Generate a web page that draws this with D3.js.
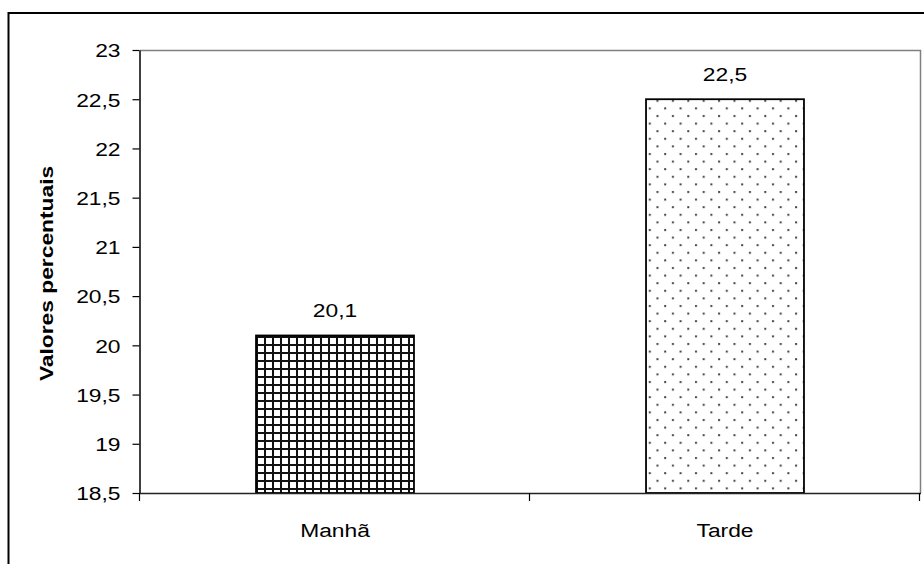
<!DOCTYPE html>
<html>
<head>
<meta charset="utf-8">
<script src="https://cdn.jsdelivr.net/npm/d3@7"></script>
<style>
  body { margin: 0; background: #fff; }
  text { font-family: "Liberation Sans", Arial, sans-serif; fill: #000; }
</style>
</head>
<body>
<div id="chart"></div>
<script>
// dados do gráfico
const categorias = ["Manhã", "Tarde"];
const valores = [20.1, 22.5];
const padroes = ["grade", "pontos"];
const yTicks = [18.5, 19, 19.5, 20, 20.5, 21, 21.5, 22, 22.5, 23];
const yTitulo = "Valores percentuais";

const width = 924, height = 564;
const plot = { left: 140, right: 920, top: 50, bottom: 493 };
const stretch = 1.2; // texto esticado na horizontal como no original
const fs = "19px";

const pt = d3.formatLocale({ decimal: ",", thousands: ".", grouping: [3], currency: ["", ""] });
const fmt = pt.format("~g");

const svg = d3.select("#chart").append("svg")
    .attr("width", width)
    .attr("height", height);

// padrões de preenchimento
const defs = svg.append("defs");
const grade = defs.append("pattern")
    .attr("id", "grade")
    .attr("patternUnits", "userSpaceOnUse")
    .attr("width", 8).attr("height", 8);
grade.append("rect").attr("width", 8).attr("height", 8).attr("fill", "#fff");
grade.append("rect").attr("x", 0).attr("y", 0).attr("width", 2).attr("height", 8).attr("fill", "#111");
grade.append("rect").attr("x", 0).attr("y", 0).attr("width", 8).attr("height", 2).attr("fill", "#111");

const pontos = defs.append("pattern")
    .attr("id", "pontos")
    .attr("patternUnits", "userSpaceOnUse")
    .attr("width", 15.4).attr("height", 15.2);
pontos.append("rect").attr("width", 15.4).attr("height", 15.2).attr("fill", "#fff");
pontos.append("rect").attr("x", 2).attr("y", 1).attr("width", 2).attr("height", 2).attr("fill", "#444");
pontos.append("rect").attr("x", 9.7).attr("y", 8.6).attr("width", 2).attr("height", 2).attr("fill", "#444");

// moldura externa
svg.append("rect")
    .attr("x", 8.5).attr("y", 13)
    .attr("width", 1000).attr("height", 1000)
    .attr("fill", "none")
    .attr("stroke", "#000")
    .attr("stroke-width", 2);

// escalas
const x = d3.scaleBand()
    .domain(categorias)
    .range([plot.left, plot.right])
    .padding(0);

const y = d3.scaleLinear()
    .domain([18.5, 23])
    .range([plot.bottom, plot.top]);

const barW = x.bandwidth() * 0.405;

// borda da área do gráfico (cinza)
svg.append("path")
    .attr("d", `M${plot.left},${plot.top + 0.5}H${plot.right + 0.5}V${plot.bottom}`)
    .attr("fill", "none")
    .attr("stroke", "#808080")
    .attr("stroke-width", 1.5);

// barras
svg.selectAll("rect.barra")
    .data(categorias)
    .enter()
    .append("rect")
    .attr("class", "barra")
    .attr("x", (d) => x(d) + (x.bandwidth() - barW) / 2)
    .attr("y", (d, i) => y(valores[i]))
    .attr("width", barW)
    .attr("height", (d, i) => y(18.5) - y(valores[i]))
    .attr("fill", (d, i) => `url(#${padroes[i]})`)
    .attr("stroke", "#000")
    .attr("stroke-width", 1.8);

// eixo Y
const yAxis = svg.append("g")
    .attr("transform", `translate(${plot.left - 0.5},0)`)
    .call(d3.axisLeft(y).tickValues(yTicks).tickSize(7).tickSizeOuter(0).tickFormat(fmt));
yAxis.select(".domain").attr("stroke", "#000").attr("stroke-width", 1.5);
yAxis.selectAll(".tick line").attr("stroke", "#000").attr("stroke-width", 1.2);
yAxis.selectAll(".tick text")
    .attr("x", 0)
    .attr("dy", "0.36em")
    .attr("transform", `translate(-19,0) scale(${stretch},1)`)
    .style("font-size", fs)
    .style("font-family", "'Liberation Sans', Arial, sans-serif")
    .attr("fill", "#000");

// eixo X
const xEdges = [plot.left, x(categorias[1]), plot.right];
svg.append("line")
    .attr("x1", plot.left).attr("x2", plot.right + 1)
    .attr("y1", plot.bottom + 0.5).attr("y2", plot.bottom + 0.5)
    .attr("stroke", "#222").attr("stroke-width", 1.5);
svg.selectAll("line.xtick")
    .data(xEdges)
    .enter()
    .append("line")
    .attr("class", "xtick")
    .attr("x1", (d) => d - 0.5).attr("x2", (d) => d - 0.5)
    .attr("y1", plot.bottom).attr("y2", plot.bottom + 8)
    .attr("stroke", "#000").attr("stroke-width", 1.2);

svg.selectAll("text.xlabel")
    .data(categorias)
    .enter()
    .append("text")
    .attr("class", "xlabel")
    .attr("transform", (d) => `translate(${x(d) + x.bandwidth() / 2},537) scale(${stretch},1)`)
    .attr("text-anchor", "middle")
    .style("font-size", fs)
    .text((d) => d);

// rótulos de valores
svg.selectAll("text.valor")
    .data(valores)
    .enter()
    .append("text")
    .attr("class", "valor")
    .attr("transform", (d, i) => `translate(${x(categorias[i]) + x.bandwidth() / 2},${y(d) - 18}) scale(${stretch},1)`)
    .attr("text-anchor", "middle")
    .style("font-size", fs)
    .text((d) => fmt(d));

// título do eixo Y
svg.append("text")
    .attr("transform", `translate(53,${(plot.top + plot.bottom) / 2 + 2}) rotate(-90) scale(${stretch},1)`)
    .attr("text-anchor", "middle")
    .style("font-size", fs)
    .style("font-weight", "bold")
    .text(yTitulo);
</script>
</body>
</html>
